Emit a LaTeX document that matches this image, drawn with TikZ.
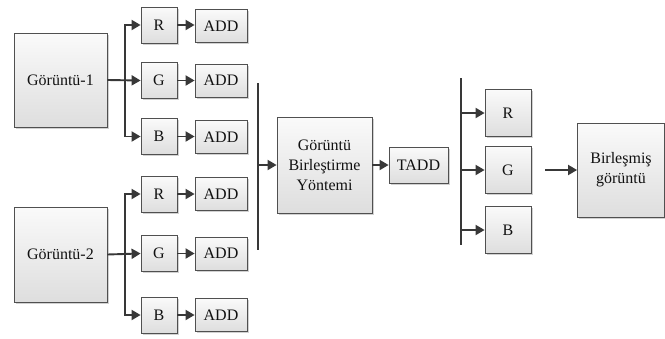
\documentclass[tikz,border=0pt]{standalone}
\usepackage{fontspec}
\setmainfont{Liberation Serif}
\newfontfamily\labelfont{Liberation Serif}
\usetikzlibrary{arrows.meta,shadows}
\definecolor{edge}{HTML}{505050}
\definecolor{wire}{HTML}{383838}
\definecolor{ink}{HTML}{111111}
\tikzset{
  blk/.style={draw=edge, line width=0.8pt, top color=black!2, bottom color=black!13,
    drop shadow={shadow xshift=1.6pt, shadow yshift=-1.6pt, fill=black!40, opacity=0.45},
    inner sep=0pt, align=center, text=ink,
    font=\labelfont\fontsize{16}{20}\selectfont},
  chan/.style={blk, minimum width=36pt, minimum height=36pt},
  addb/.style={blk, minimum width=52pt, minimum height=33pt},
  rchan/.style={blk, minimum width=46pt, minimum height=47pt},
  arr/.style={draw=wire, line width=1.9pt, -{Triangle[length=9pt,width=10pt]}},
  bar/.style={draw=wire, line width=2.4pt}
}
\begin{document}
\begin{tikzpicture}[x=1pt,y=-1pt]
\useasboundingbox (0,0) rectangle (665,338);

% source images
\node[blk, minimum width=93pt, minimum height=94pt] (g1) at (60.5,80) {Görüntü-1};
\node[blk, minimum width=93pt, minimum height=95pt] (g2) at (60.5,254.5) {Görüntü-2};

% colour channels of the first image
\node[chan] (r1) at (159,25) {R};
\node[chan] (c1) at (159,80.5) {G};
\node[chan] (b1) at (159,136.5) {B};
\node[addb] (ar1) at (221,26) {ADD};
\node[addb] (ac1) at (221,80.5) {ADD};
\node[addb] (ab1) at (221,137) {ADD};

% colour channels of the second image
\node[chan] (r2) at (159,194) {R};
\node[chan] (c2) at (159,253.5) {G};
\node[chan] (b2) at (159,315) {B};
\node[addb] (ar2) at (221,194) {ADD};
\node[addb] (ac2) at (221,253.5) {ADD};
\node[addb] (ab2) at (221,315) {ADD};

% fusion stage
\node[blk, minimum width=95pt, minimum height=96pt] (fuse) at (324.5,165) {Görüntü\\Birleştirme\\Yöntemi};
\node[blk, minimum width=59pt, minimum height=36pt] (tadd) at (418.5,165) {TADD};

% fused channels and result
\node[rchan] (rr) at (508,113) {R};
\node[rchan] (rg) at (508,170) {G};
\node[rchan] (rb) at (508,230) {B};
\node[blk, minimum width=87pt, minimum height=94pt] (out) at (621,170) {Birleşmiş\\görüntü};

% split points and bars
\coordinate (s1) at (125,80.5);
\coordinate (s2) at (125,253.5);
\coordinate (bar1t) at (258,83);
\coordinate (bar1b) at (258,250);
\coordinate (j1) at (258,165);
\coordinate (bar2t) at (461,78);
\coordinate (bar2b) at (461,245);
\coordinate (sr) at (461,113);
\coordinate (sg) at (461,170);
\coordinate (sb) at (461,230);
\coordinate (po) at (545,170);

% splitting each image into channels
\draw[arr] (g1.east) -- (c1.west);
\draw[arr] (s1) |- (r1.west);
\draw[arr] (s1) |- (b1.west);
\draw[arr] (g2.east) -- (c2.west);
\draw[arr] (s2) |- (r2.west);
\draw[arr] (s2) |- (b2.west);

% channel to ADD
\foreach \a/\b in {r1/ar1, c1/ac1, b1/ab1, r2/ar2, c2/ac2, b2/ab2}
  \draw[arr] (\a) -- (\a -| \b.west);

% collecting bar and fusion
\draw[bar] (bar1t) -- (bar1b);
\draw[arr] (j1) -- (fuse.west);
\draw[arr] (fuse) -- (tadd);

% distributing bar
\draw[bar] (bar2t) -- (bar2b);
\draw[arr] (sr) -- (rr.west);
\draw[arr] (sg) -- (rg.west);
\draw[arr] (sb) -- (rb.west);
\draw[arr] (po) -- (out.west);
\end{tikzpicture}
\end{document}
